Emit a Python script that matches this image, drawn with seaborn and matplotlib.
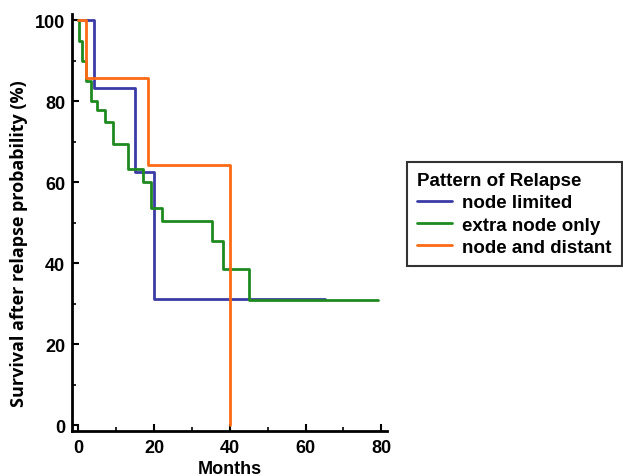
import numpy as np
import pandas as pd
import matplotlib
matplotlib.use("Agg")
import matplotlib.pyplot as plt
import seaborn as sns

# ---- data ----
groups = ["node limited", "extra node only", "node and distant"]
colors = ["#3b3ba6", "#1f8a1f", "#ff6a14"]

node_limited_t = [0, 4, 15, 20, 65]
node_limited_s = [100, 83.3, 62.5, 31.25, 31.25]

extra_node_t = [0, 0.2, 1, 2, 3.2, 5, 7, 9, 13.2, 17, 19.2, 22.2, 35.2, 38.2, 45, 79]
extra_node_s = [100, 95, 90, 85, 80, 78, 75, 69.4, 63.3, 60.1, 53.7, 50.5, 45.6, 38.7, 31, 31]

node_distant_t = [0, 2, 18.3, 40]
node_distant_s = [100, 85.7, 64.3, 0]

x_ticks = [0, 20, 40, 60, 80]
y_ticks = [0, 20, 40, 60, 80, 100]

frames = []
for g, t, s in zip(groups,
                   [node_limited_t, extra_node_t, node_distant_t],
                   [node_limited_s, extra_node_s, node_distant_s]):
    frames.append(pd.DataFrame({"Months": t, "Survival": s, "group": g}))
df = pd.concat(frames, ignore_index=True)

sns.set_style("white")
plt.rcParams["font.family"] = ["Liberation Sans", "DejaVu Sans"]
plt.rcParams["text.color"] = "black"
plt.rcParams["axes.labelcolor"] = "black"
plt.rcParams["xtick.color"] = "black"
plt.rcParams["ytick.color"] = "black"

fig = plt.figure(figsize=(6.23, 4.77), dpi=100)
ax = fig.add_axes([72/623, 1-432/477, (387-72)/623, (432-15)/477])

sns.lineplot(data=df, x="Months", y="Survival", hue="group", hue_order=groups,
             palette=colors, estimator=None, sort=False, drawstyle="steps-post",
             linewidth=2.0, ax=ax, legend=True)

ax.set_xlim(-1.7, 81.5)
ax.set_ylim(-1.4, 101.6)
ax.set_xticks(x_ticks)
ax.set_yticks(y_ticks)
ax.set_xticks([10, 30, 50, 70], minor=True)
ax.set_yticks([10, 30, 50, 70, 90], minor=True)
ax.tick_params(axis="both", which="both", bottom=True, left=True,
               top=False, right=False)
ax.tick_params(axis="both", which="major", direction="in", length=5, width=1.5,
               labelsize=13, pad=5, color="black", labelcolor="black")
ax.tick_params(axis="x", which="major", pad=6)
ax.tick_params(axis="both", which="minor", direction="in", length=3, width=1.2,
               color="black")
for lab in ax.get_xticklabels() + ax.get_yticklabels():
    lab.set_fontweight("bold")

for side in ["top", "right"]:
    ax.spines[side].set_visible(False)
for side in ["left", "bottom"]:
    ax.spines[side].set_linewidth(2)
    ax.spines[side].set_color("black")

ax.set_xlabel("Months", fontsize=13, fontweight="bold", labelpad=3,
              color="black")
ax.set_ylabel("Survival after relapse probability (%)", fontsize=13,
              fontweight="bold", family=["Open Sans", "DejaVu Sans"],
              color="black")
ax.yaxis.set_label_coords(-0.14, 0.451)

handles, labels = ax.get_legend_handles_labels()
ax.get_legend().remove()
leg = fig.legend(handles, labels, title="Pattern of Relapse",
                 loc="upper left", bbox_to_anchor=(407/623, 1-163/477),
                 borderaxespad=0,
                 frameon=True, fancybox=False, edgecolor="black",
                 prop={"weight": "bold", "size": 13.5},
                 title_fontproperties={"weight": "bold", "size": 13.5},
                 handlelength=1.85, handletextpad=0.55, borderpad=0.55,
                 labelspacing=0.27, alignment="left")
leg.get_frame().set_linewidth(1.5)
leg.get_title().set_color("black")
for t in leg.get_texts():
    t.set_color("black")
for line in leg.get_lines():
    line.set_linewidth(2)

fig.savefig("out.png", dpi=100)
